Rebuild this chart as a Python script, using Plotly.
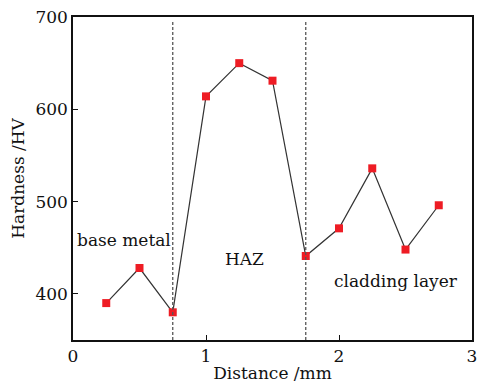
import plotly.graph_objects as go

distance = [0.25, 0.5, 0.75, 1.0, 1.25, 1.5, 1.75, 2.0, 2.25, 2.5, 2.75]
hardness = [390, 428, 380, 614, 650, 631, 441, 471, 536, 448, 496]
boundaries = [0.75, 1.75]
region_labels = ["base metal", "HAZ", "cladding layer"]
region_x = [0.38, 1.29, 2.43]
region_y = [458, 438, 414]
x_ticks = [0, 1, 2, 3]
y_ticks = [400, 500, 600, 700]

FONT = "DejaVu Serif"

fig = go.Figure()
fig.add_trace(go.Scatter(
    x=distance, y=hardness, mode="lines+markers",
    line=dict(color="#333333", width=1.2),
    marker=dict(symbol="square", size=8, color="#ee1c24"),
    showlegend=False,
))

for b in boundaries:
    fig.add_shape(type="line", x0=b, x1=b, y0=0, y1=0.985, xref="x", yref="paper",
                  line=dict(color="#555555", width=1.3, dash="3px,2px"))

for t, x, y in zip(region_labels, region_x, region_y):
    fig.add_annotation(x=x, y=y, text=t, showarrow=False,
                       font=dict(family=FONT, size=17, color="#111111"))

fig.update_xaxes(range=[0, 3], tickvals=x_ticks, ticks="inside", ticklen=5,
                 tickcolor="#111", showline=True, linecolor="#111", linewidth=1.5,
                 mirror=True, showgrid=False, zeroline=False, automargin=False,
                 ticklabeloverflow="allow",
                 title=dict(text="Distance /mm", standoff=2,
                            font=dict(family=FONT, size=17, color="#111")),
                 tickfont=dict(family=FONT, size=17, color="#111"))
fig.update_yaxes(range=[350, 700], tickvals=y_ticks, ticks="inside", ticklen=5,
                 tickcolor="#111", showline=True, linecolor="#111", linewidth=1.5,
                 mirror=True, showgrid=False, zeroline=False, automargin=False,
                 ticklabeloverflow="allow",
                 title=dict(text="Hardness /HV", standoff=6,
                            font=dict(family=FONT, size=17, color="#111")),
                 tickfont=dict(family=FONT, size=17, color="#111"))

fig.update_layout(width=477, height=384, margin=dict(l=73, r=5, t=17, b=44),
                  plot_bgcolor="white", paper_bgcolor="white")
fig.write_html("out.html", config={"displayModeBar": False},
               post_script="document.body.style.margin='0';")
